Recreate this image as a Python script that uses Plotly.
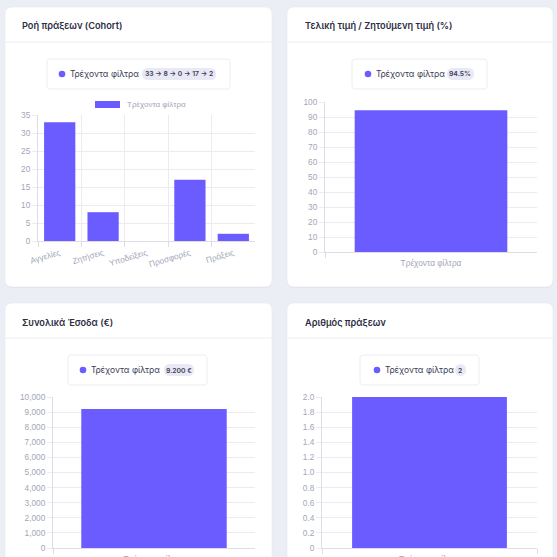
import plotly.graph_objects as go

# ---------------- data ----------------
funnel_stages = ["Αγγελίες", "Ζητήσεις", "Υποδείξεις", "Προσφορές", "Πράξεις"]
funnel_values = [33, 8, 0, 17, 2]
series_name = "Τρέχοντα φίλτρα"
price_ratio = [94.5]
revenue = [9200]
deal_count = [2]
card_titles = ["Ροή πράξεων (Cohort)", "Τελική τιμή / Ζητούμενη τιμή (%)",
               "Συνολικά Έσοδα (€)", "Αριθμός πράξεων"]
badge_texts = ["33 → 8 → 0 → 17 → 2", "94.5%", "9.200 €", "2"]
count_tickvals = [0, 0.2, 0.4, 0.6, 0.8, 1.0, 1.2, 1.4, 1.6, 1.8, 2.0]
count_ticktext = ["0", "0.2", "0.4", "0.6", "0.8", "1.0", "1.2", "1.4", "1.6", "1.8", "2.0"]

# ---------------- style ----------------
W = H = 557
BG = "#eceef6"
BAR = "#6b5cff"
GRID = "#ebebf1"
AXIS = "#dddde6"
TICK = "#a3a6b8"
TITLE = "#2b2d42"
TEXT = "#3a3c55"
SANS = "Inter, 'Noto Sans', sans-serif"
ARIAL = "'Liberation Sans', Arial, sans-serif"


def X(px):
    return px / W


def Y(py):
    return 1 - py / H


def rrect(x0, y0, x1, y1, r):
    pts = [
        ("M", (x0 + r, y0)), ("L", (x1 - r, y0)), ("Q", (x1, y0), (x1, y0 + r)),
        ("L", (x1, y1 - r)), ("Q", (x1, y1), (x1 - r, y1)), ("L", (x0 + r, y1)),
        ("Q", (x0, y1), (x0, y1 - r)), ("L", (x0, y0 + r)), ("Q", (x0, y0), (x0 + r, y0)),
    ]
    s = ""
    for p in pts:
        s += p[0] + " " + " ".join(f"{X(a):.5f},{Y(b):.5f}" for a, b in p[1:]) + " "
    return s + "Z"


shapes = []
annotations = []

cards = [(5, 7, 272, 287), (287, 7, 553, 287), (5, 303, 272, 620), (287, 303, 553, 620)]
header_y = [42, 42, 338, 338]
title_pos = [(20, 25), (303, 25), (20, 322), (303, 322)]

for (x0, y0, x1, y1), hy, (tx, ty), t in zip(cards, header_y, title_pos, card_titles):
    shapes.append(dict(type="path", path=rrect(x0, y0 + 1, x1, y1 + 1, 7), xref="paper", yref="paper",
                       fillcolor="rgba(40,40,90,0.05)", line=dict(width=0), layer="below"))
    shapes.append(dict(type="path", path=rrect(x0, y0, x1, y1, 7), xref="paper", yref="paper",
                       fillcolor="white", line=dict(color="#e6e7f0", width=0.6), layer="below"))
    shapes.append(dict(type="line", x0=X(x0), x1=X(x1), y0=Y(hy), y1=Y(hy), xref="paper", yref="paper",
                       line=dict(color="#eeeef4", width=1.2), layer="below"))
    annotations.append(dict(text=t, x=X(tx), y=Y(ty), xref="paper", yref="paper", xanchor="left",
                            yanchor="middle", showarrow=False,
                            font=dict(family=SANS, size=9.2, color=TITLE, weight=600)))

# legend boxes: box, dot x, text x, pill
legends = [
    ((47, 59, 230, 89), 62, 68, (142, 68, 216, 80)),
    ((352, 59, 487, 89), 368, 374, (447, 68, 474, 80)),
    ((68, 355, 207, 385), 83, 89, (164, 364, 194, 376)),
    ((360, 355, 479, 385), 377, 383, (455, 364, 466, 376)),
]
for ((bx0, by0, bx1, by1), dx, tx, (px0, py0, px1, py1)), badge in zip(legends, badge_texts):
    cy = (by0 + by1) / 2
    shapes.append(dict(type="path", path=rrect(bx0, by0, bx1, by1, 3), xref="paper", yref="paper",
                       fillcolor="white", line=dict(color="#e7e8ef", width=0.8), layer="below"))
    shapes.append(dict(type="circle", x0=X(dx - 3.3), x1=X(dx + 3.3), y0=Y(cy - 3.3), y1=Y(cy + 3.3),
                       xref="paper", yref="paper", fillcolor=BAR, line=dict(width=0)))
    shapes.append(dict(type="path", path=rrect(px0, py0, px1, py1, 6), xref="paper", yref="paper",
                       fillcolor="#e9e9f6", line=dict(width=0), layer="below"))
    annotations.append(dict(text=series_name, x=X(tx), y=Y(cy), xref="paper", yref="paper",
                            xanchor="left", yanchor="middle", showarrow=False,
                            font=dict(family=SANS, size=8.5, color=TEXT)))
    annotations.append(dict(text=badge, x=X((px0 + px1) / 2), y=Y(cy), xref="paper", yref="paper",
                            xanchor="center", yanchor="middle", showarrow=False,
                            font=dict(family=SANS, size=6.8, color=TEXT, weight=600)))

# in-chart legend for chart 1
shapes.append(dict(type="rect", x0=X(95), x1=X(120), y0=Y(108), y1=Y(101), xref="paper", yref="paper",
                   fillcolor=BAR, line=dict(width=0)))
annotations.append(dict(text=series_name, x=X(125), y=Y(104.5), xref="paper", yref="paper",
                        xanchor="left", yanchor="middle", showarrow=False,
                        font=dict(family=ARIAL, size=8, color=TICK)))

fig = go.Figure()
bar_kw = dict(marker=dict(color=BAR, line=dict(width=0)), showlegend=False, hoverinfo="x+y")
fig.add_trace(go.Bar(x=funnel_stages, y=funnel_values, name=series_name, xaxis="x", yaxis="y", **bar_kw))
fig.add_trace(go.Bar(x=[series_name], y=price_ratio, name=series_name, xaxis="x2", yaxis="y2", **bar_kw))
fig.add_trace(go.Bar(x=[series_name], y=revenue, name=series_name, xaxis="x3", yaxis="y3", **bar_kw))
fig.add_trace(go.Bar(x=[series_name], y=deal_count, name=series_name, xaxis="x4", yaxis="y4", **bar_kw))

tickfont = dict(family=ARIAL, size=8.3, color=TICK)
domains = [((38, 255), (115, 241)), ((325, 537), (102, 252)), ((53, 255), (397, 548)), ((322, 537), (397, 548))]
yranges = [(0, 35, 5), (0, 100, 10), (0, 10000, 1000), (0, 2, 0.2)]

layout = dict(width=W, height=H, margin=dict(l=0, r=0, t=0, b=0, pad=0, autoexpand=False),
              paper_bgcolor=BG, plot_bgcolor="rgba(0,0,0,0)", bargap=0.28, shapes=shapes,
              annotations=annotations, showlegend=False)
for i, (((xa, xb), (ya, yb)), (r0, r1, dt)) in enumerate(zip(domains, yranges), start=1):
    sx = "" if i == 1 else str(i)
    xax = dict(domain=[X(xa), X(xb)], anchor="y" + sx, type="category", showline=True, linecolor=AXIS,
               linewidth=1, tickfont=tickfont, ticks="outside", ticklen=5, tickcolor=AXIS,
               tickson="boundaries", showgrid=(i == 1), gridcolor=GRID, gridwidth=1, fixedrange=True,
               automargin=False, ticklabelstandoff=3)
    if i == 1:
        xax["tickangle"] = -17
    yax = dict(domain=[Y(yb), Y(ya)], anchor="x" + sx, range=[r0, r1], dtick=dt, tick0=0,
               showline=True, linecolor=AXIS, linewidth=1, gridcolor=GRID, gridwidth=1,
               zeroline=False, ticks="outside", ticklen=5, tickcolor=GRID, tickfont=tickfont,
               fixedrange=True, automargin=False)
    if i == 3:
        yax["tickformat"] = ","
    if i == 4:
        yax["tickvals"] = count_tickvals
        yax["ticktext"] = count_ticktext
    layout["xaxis" + sx] = xax
    layout["yaxis" + sx] = yax

fig.update_layout(**layout)
fig.write_html("out.html",
               post_script="document.body.style.margin='0';document.body.style.overflow='hidden';")
